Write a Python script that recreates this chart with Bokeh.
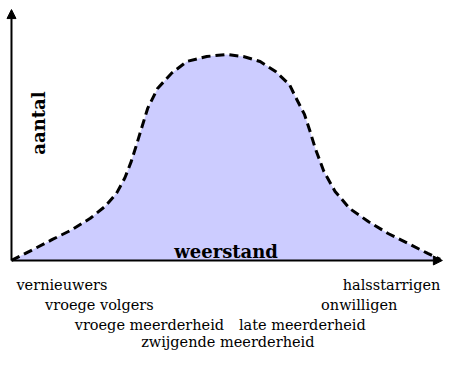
from bokeh.plotting import figure
from bokeh.models import Range1d, Arrow, NormalHead
from bokeh.core.properties import value
from bokeh.embed import file_html
from bokeh.resources import INLINE

# curve: resistance (0..100) vs. number of people (peak = 100)
resistance = [0.0, 5.0, 9.5, 14.1, 18.3, 21.7, 24.4, 26.3, 27.8, 29.0, 29.75, 31.6,
              33.9, 37.1, 40.7, 45.3, 49.9, 53.8, 57.7, 61.3, 64.5, 66.1, 68.0,
              69.3, 70.5, 72.5, 75.1, 78.5, 82.8, 87.4, 92.0, 96.6, 99.5]
count = [0.0, 5.3, 10.2, 15.0, 20.5, 26.2, 32.7, 40.0, 48.1, 56.0, 61.2, 73.8,
         83.5, 90.8, 96.6, 99.0, 100.0, 99.0, 96.6, 91.7, 85.4, 78.6, 70.9,
         62.6, 54.4, 43.2, 33.5, 25.2, 18.9, 13.1, 8.3, 3.4, 0.5]

# group labels below the axis
group_labels = ["vernieuwers", "vroege volgers", "vroege meerderheid",
                "zwijgende meerderheid", "late meerderheid", "onwilligen",
                "halsstarrigen"]
group_x = [11.7, 20.4, 32.0, 50.2, 67.5, 80.7, 88.2]
group_y = [-12.1, -21.8, -31.1, -39.8, -31.1, -21.8, -12.1]

x_title = "weerstand"
y_title = "aantal"

p = figure(width=444, height=351, x_range=Range1d(-2.55, 100.49),
           y_range=Range1d(-44.2, 126.2), x_axis_type=None, y_axis_type=None,
           output_backend="svg", toolbar_location=None, min_border=0)
p.grid.visible = False
p.outline_line_color = None
p.background_fill_color = "white"

p.varea(x=resistance, y1=[0] * len(count), y2=count, fill_color="#ccccff")
p.line(x=resistance, y=count, line_color="black", line_width=3,
       line_dash="9 5")

# axes with arrow heads
p.add_layout(Arrow(end=NormalHead(size=9, fill_color="black", line_color="black"),
                   x_start=0, y_start=0, x_end=100.0, y_end=0,
                   line_color="black", line_width=2))
p.add_layout(Arrow(end=NormalHead(size=9, fill_color="black", line_color="black"),
                   x_start=0, y_start=0, x_end=0, y_end=121.8,
                   line_color="black", line_width=2))

p.text(x=group_x, y=group_y, text=group_labels,
       text_font=value("DejaVu Serif"), text_font_size="14.5px",
       text_align="center", text_baseline="alphabetic", text_color="black")

p.text(x=[49.8], y=[4.4], text=[x_title], text_font=value("DejaVu Serif"),
       text_font_size="18px", text_font_style="bold", text_align="center",
       text_baseline="alphabetic", text_color="black")
p.text(x=[6.2], y=[66.7], text=[y_title], text_font=value("DejaVu Serif"),
       text_font_size="18px", text_font_style="bold", text_align="center",
       text_baseline="alphabetic", text_color="black", angle=1.5708)

open("out.html", "w").write(file_html(p, INLINE))
